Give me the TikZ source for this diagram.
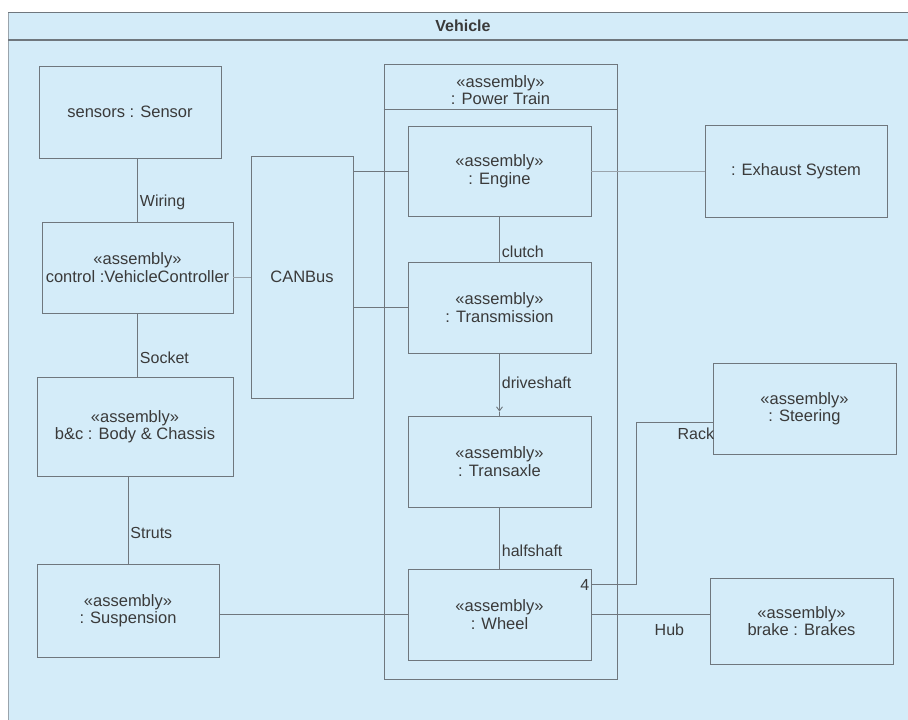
\documentclass[tikz,border=0pt]{standalone}
\usepackage{fontspec}
\setmainfont{Liberation Sans}
\usetikzlibrary{calc,arrows.meta}
\definecolor{bg}{HTML}{D4ECF9}
\definecolor{ln}{HTML}{6F777E}
\definecolor{lnf}{HTML}{9AA4AC}
\definecolor{tx}{HTML}{3A3A3A}
\begin{document}
\begin{tikzpicture}[x=1pt,y=-1pt,
  box/.style={draw=ln, line width=0.9pt, fill=bg, text=tx, align=center, inner sep=0pt, font=\fontsize{16.5}{17.5}\selectfont},
  conn/.style={draw=ln, line width=0.9pt},
  faint/.style={draw=lnf, line width=0.8pt},
  lbl/.style={text=tx, font=\fontsize{16}{17.5}\selectfont, inner sep=2pt}]
\useasboundingbox (0,0) rectangle (908,720);
\fill[white] (0,0) rectangle (908,720);
\fill[bg] (8,12) rectangle (912,724);
\draw[lnf, line width=0.8pt] (8,12) -- (8,724);
\draw[ln, line width=0.9pt] (8,12) -- (912,12);
\draw[ln, line width=1.6pt] (8,40) -- (912,40);
\node[lbl, font=\fontsize{16}{17}\selectfont\bfseries] (title) at (463,26) {Vehicle};

% Power Train container
\node[box, minimum width=233pt, minimum height=615pt] (pt) at (500.5,371.5) {};
\draw[conn] ($(pt.north west)+(0,46)$) -- ($(pt.north east)+(0,46)$);
\node[lbl, align=center, font=\fontsize{16.5}{17.5}\selectfont] (pttitle) at (500.5,90) {«assembly»\\: Power Train};

% Left column
\node[box, minimum width=182pt, minimum height=92pt] (sensors) at (130,112) {sensors : Sensor};
\node[box, minimum width=191pt, minimum height=91pt] (ctrl) at (137.5,267.5) {«assembly»\\control :VehicleController};
\node[box, minimum width=102pt, minimum height=242pt] (can) at (302,277) {CANBus};
\node[box, minimum width=196pt, minimum height=99pt] (bc) at (135,426.5) {«assembly»\\b\&c : Body \& Chassis};
\node[box, minimum width=182pt, minimum height=93pt] (susp) at (128,610.5) {«assembly»\\: Suspension};

% Power train parts
\node[box, minimum width=183pt, minimum height=90pt] (eng) at (499.5,171) {«assembly»\\: Engine};
\node[box, minimum width=183pt, minimum height=91pt] (trans) at (499.5,307.5) {«assembly»\\: Transmission};
\node[box, minimum width=183pt, minimum height=91pt] (tax) at (499.5,461.5) {«assembly»\\: Transaxle};
\node[box, minimum width=183pt, minimum height=91pt] (wheel) at (499.5,614.5) {«assembly»\\: Wheel};

% Right column
\node[box, minimum width=182pt, minimum height=92pt] (exh) at (796,171) {: Exhaust System};
\node[box, minimum width=183pt, minimum height=91pt] (steer) at (804.5,408.5) {«assembly»\\: Steering};
\node[box, minimum width=183pt, minimum height=86pt] (brakes) at (801.5,621) {«assembly»\\brake : Brakes};

% Connectors
\draw[conn] (ctrl.north) -- (ctrl.north |- sensors.south)
  node[lbl, pos=0.31, anchor=west] {Wiring};
\draw[conn] (ctrl.south) -- (ctrl.south |- bc.north)
  node[lbl, pos=0.7, anchor=west] {Socket};
\draw[conn] (susp.north) -- (susp.north |- bc.south)
  node[lbl, pos=0.35, anchor=west] {Struts};
\draw[faint] (can.west) -- (can.west -| ctrl.east);
\draw[conn] (eng.west) -- (eng.west -| can.east);
\draw[conn] (trans.west) -- (trans.west -| can.east);
\draw[faint] ($(bc.east)+(0,-4.5)$) -- ($(bc.east)+(0,-4.5)$ -| pt.west);
\draw[conn] (wheel.west) -- (wheel.west -| susp.east);
\draw[faint] (eng.east) -- (exh.west);
\draw[conn] (eng.south) -- (trans.north)
  node[lbl, pos=0.78, anchor=west] {clutch};
\draw[conn, -{Straight Barb[length=4pt,width=6pt]}] (trans.south) -- ($(tax.north)+(0,-4)$)
  node[lbl, pos=0.5, anchor=west] {driveshaft};
\draw[conn] ($(tax.north)+(0,-4)$) -- (tax.north);
\draw[conn] (tax.south) -- (wheel.north)
  node[lbl, pos=0.71, anchor=west] {halfshaft};
\draw[conn] ($(wheel.north east)+(0,16)$) -| ($(steer.west)+(-76,13.5)$) -- ($(steer.west)+(0,13.5)$)
  node[lbl, anchor=north east, inner sep=1pt, yshift=-4pt, xshift=3pt] {Rack};
\node[lbl, anchor=east] (mult) at ($(wheel.north east)+(0,16)$) {4};
\draw[conn] (wheel.east) -- (wheel.east -| brakes.west)
  node[lbl, pos=0.66, anchor=north, inner sep=9pt] {Hub};
\end{tikzpicture}
\end{document}
